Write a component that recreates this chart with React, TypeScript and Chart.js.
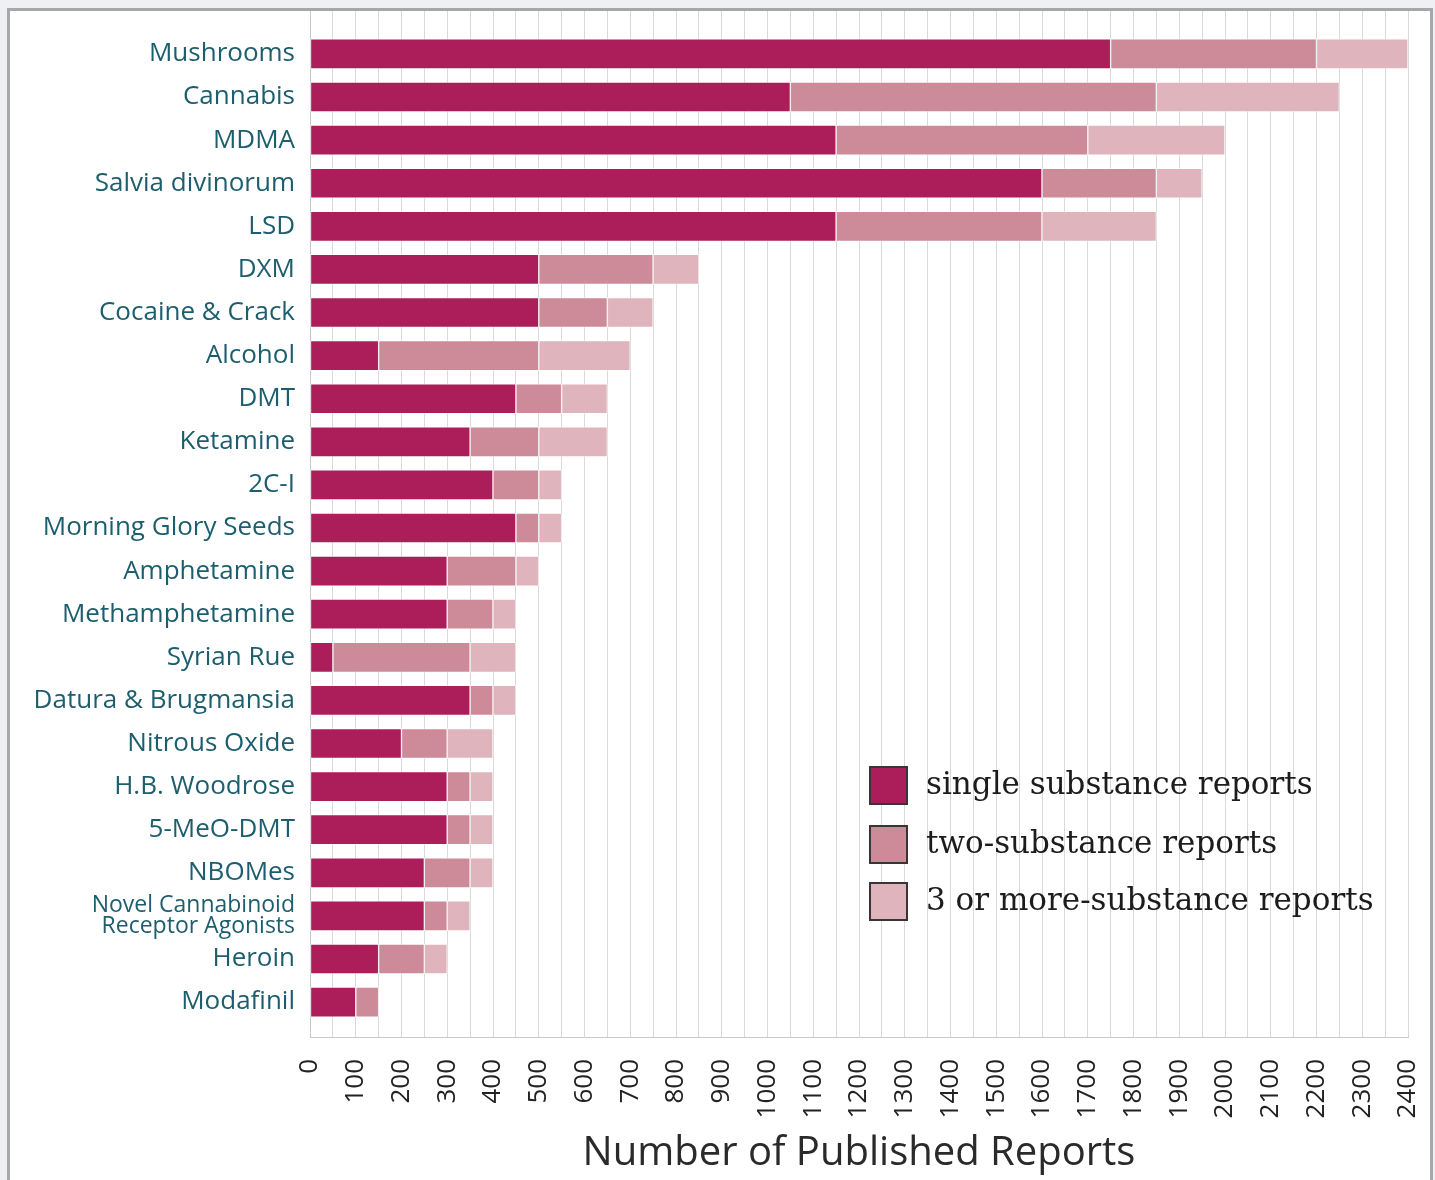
import React, { useEffect, useRef } from "react";
import { Chart, registerables } from "chart.js";

Chart.register(...registerables);

const labels: (string | string[])[] = [
  "Mushrooms",
  "Cannabis",
  "MDMA",
  "Salvia divinorum",
  "LSD",
  "DXM",
  "Cocaine & Crack",
  "Alcohol",
  "DMT",
  "Ketamine",
  "2C-I",
  "Morning Glory Seeds",
  "Amphetamine",
  "Methamphetamine",
  "Syrian Rue",
  "Datura & Brugmansia",
  "Nitrous Oxide",
  "H.B. Woodrose",
  "5-MeO-DMT",
  "NBOMes",
  ["Novel Cannabinoid", "Receptor Agonists"],
  "Heroin",
  "Modafinil",
];

const singleReports = [1750, 1050, 1150, 1600, 1150, 500, 500, 150, 450, 350, 400, 450, 300, 300, 50, 350, 200, 300, 300, 250, 250, 150, 100];
const twoReports = [450, 800, 550, 250, 450, 250, 150, 350, 100, 150, 100, 50, 150, 100, 300, 50, 100, 50, 50, 100, 50, 100, 50];
const threeReports = [200, 400, 300, 100, 250, 100, 100, 200, 100, 150, 50, 50, 50, 50, 100, 50, 100, 50, 50, 50, 50, 50, 0];

const seriesNames = ["single substance reports", "two-substance reports", "3 or more-substance reports"];
const seriesColors = ["#ab1e5a", "#cd8a99", "#dfb4bd"];

const xMin = 0;
const xMax = 2400;
const xGridStep = 50;
const xLabelStep = 100;
const xTitle = "Number of Published Reports";

const LABEL_FONT = '"Open Sans", "DejaVu Sans", sans-serif';
const LEGEND_FONT = '"DejaVu Serif", "Liberation Serif", serif';

const legendPlugin = {
  id: "boxLegend",
  afterDraw(chart: any) {
    const { ctx, chartArea } = chart;
    const bx = chartArea.left + 560;
    const centers = [774, 833, 890].map((v) => chartArea.top + v);
    ctx.save();
    seriesNames.forEach((name, i) => {
      const cy = centers[i];
      ctx.fillStyle = seriesColors[i];
      ctx.fillRect(bx, cy - 18, 37, 37);
      ctx.lineWidth = 2;
      ctx.strokeStyle = "#3b3436";
      ctx.strokeRect(bx, cy - 18, 37, 37);
      ctx.fillStyle = "#1c1c1c";
      ctx.font = `31px ${LEGEND_FONT}`;
      ctx.textBaseline = "middle";
      ctx.textAlign = "left";
      ctx.fillText(name, bx + 56, cy + 1);
    });
    ctx.restore();
  },
};

export default function App() {
  const canvasRef = useRef<HTMLCanvasElement | null>(null);

  useEffect(() => {
    const canvas = canvasRef.current;
    if (!canvas) return;
    const seriesValues = [singleReports, twoReports, threeReports];
    const chart = new Chart(canvas, {
      type: "bar",
      data: {
        datasets: seriesValues.map((vals, si) => ({
          label: seriesNames[si],
          data: vals.map((v, i) => ({ x: v, y: i })),
          backgroundColor: seriesColors[si],
          borderColor: "rgba(255,255,255,0.55)",
          borderWidth: 1,
          borderSkipped: false,
          barThickness: 30,
        })),
      },
      options: {
        indexAxis: "y",
        responsive: false,
        animation: false,
        events: [],
        layout: { padding: { left: 0, right: 22, top: 0, bottom: 0 } },
        plugins: {
          legend: { display: false },
          tooltip: { enabled: false },
        },
        scales: {
          x: {
            type: "linear",
            stacked: true,
            min: xMin,
            max: xMax,
            grid: { color: "#d9d9d9", lineWidth: 1, drawTicks: false },
            border: { display: true, color: "#c9c9c9", width: 1 },
            ticks: {
              stepSize: xGridStep,
              autoSkip: false,
              minRotation: 90,
              maxRotation: 90,
              padding: 22,
              color: "#222222",
              font: { family: LABEL_FONT, size: 26 },
              callback: (v: any) => (Number(v) % xLabelStep === 0 ? String(v) : ""),
            },
            title: {
              display: true,
              text: xTitle,
              color: "#2a2a2a",
              font: { family: LABEL_FONT, size: 40, lineHeight: 1 },
              padding: { top: 0, bottom: 6 },
            },
            afterFit: (scale: any) => {
              scale.height = 143;
              scale.paddingLeft = 0;
              scale.paddingRight = 0;
            },
          },
          y: {
            type: "linear",
            stacked: true,
            reverse: true,
            offset: false,
            min: -0.996,
            max: 22.81,
            grid: { display: false, drawTicks: false, offset: false },
            border: { display: true, color: "#c9c9c9", width: 1 },
            afterBuildTicks: (scale: any) => {
              scale.ticks = labels.map((_, i) => ({ value: i }));
            },
            ticks: {
              autoSkip: false,
              padding: 15,
              color: "#1d5e6e",
              font: (ctx: any) =>
                Array.isArray(labels[ctx.index])
                  ? { family: LABEL_FONT, size: 23, lineHeight: 0.92 }
                  : { family: LABEL_FONT, size: 26 },
              callback: (v: any) => {
                const i = Math.round(Number(v));
                return labels[i] !== undefined ? (labels[i] as any) : "";
              },
            },
            afterFit: (scale: any) => {
              scale.width = 300;
              scale.paddingTop = 0;
              scale.paddingBottom = 0;
            },
          },
        },
      },
      plugins: [legendPlugin],
    });
    return () => chart.destroy();
  }, []);

  return (
    <div style={{ position: "fixed", inset: 0, background: "#eef0f3" }}>
      <div
        style={{
          position: "absolute",
          left: 7,
          top: 8,
          width: 1426,
          height: 1172,
          boxSizing: "border-box",
          border: "3px solid #a7a7a7",
          borderBottom: "none",
          background: "#ffffff",
        }}
      >
        <canvas ref={canvasRef} width={1420} height={1169} style={{ display: "block", width: 1420, height: 1169 }} />
      </div>
    </div>
  );
}
